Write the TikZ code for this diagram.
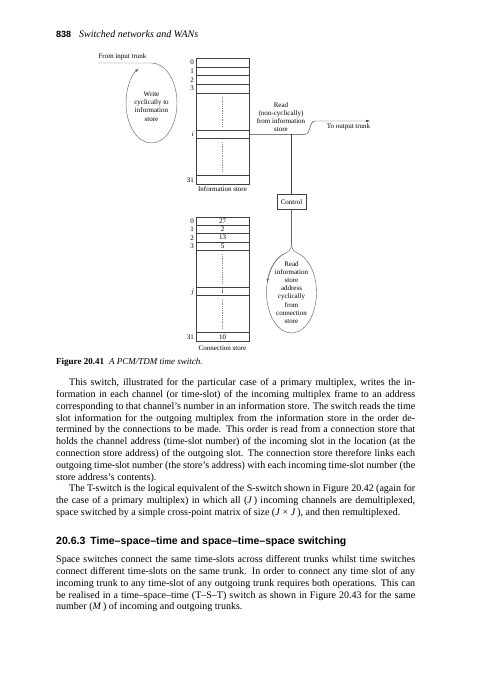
\documentclass[tikz,border=0pt]{standalone}
\usepackage{fontspec}
\setmainfont{Liberation Serif}
\setsansfont{Liberation Sans}
\usetikzlibrary{arrows.meta}
\newcommand{\figfont}{\fontsize{7}{8.2}\selectfont}
\newcommand{\bodyfont}{\fontsize{10}{11.8}\selectfont}
\newcommand{\fullln}[1]{\hbox to 359pt{\strut#1}}
\newcommand{\lastln}[1]{\hbox{\strut#1}}

\begin{document}
\begin{tikzpicture}[x=1pt, y=-1pt,
  >={Latex[length=4pt,width=2.6pt]},
  wire/.style={draw=black!75, line width=0.45pt},
  loopln/.style={draw=black!60, line width=0.45pt},
  store/.style={draw=black!75, line width=0.5pt, minimum width=53pt,
    anchor=north west, inner sep=0pt},
  lab/.style={font=\figfont, align=center, inner sep=0pt},
  addr/.style={font=\figfont, anchor=east, inner sep=0pt},
  cell/.style={font=\figfont, inner sep=0pt},
  gap/.style={draw=black!45, line width=0.4pt, dash pattern=on 0.5pt off 1.3pt},
  body/.style={anchor=north west, inner sep=0pt, font=\bodyfont}
]
\useasboundingbox (0,0) rectangle (481,680);
% running head
\node[anchor=base west, inner sep=0pt,
  font=\sffamily\bfseries\fontsize{9}{10}\selectfont] (pgno) at (56,37.5) {838};
\node[anchor=base west, inner sep=0pt,
  font=\itshape\fontsize{10}{11}\selectfont] (runhd) at (79,37.5)
  {Switched networks and WANs};
% the information store
\node[store, minimum height=125.8pt] (info) at (196,58.4) {};
\foreach \y in {67,75.6,84.2,92.8,130,138.6,175.6}
  \draw[wire] (196,\y) -- (249,\y);
\foreach \y/\t [count=\k] in {62.7/0,71.3/1,79.9/2,88.5/3,134.3/\textit{i},179.9/31}
  \node[addr] (iadr\k) at (194,\y) {\t};
\draw[gap] (222.5,97) -- (222.5,127);
\draw[gap] (222.5,142) -- (222.5,172);
\node[lab] (infolab) at (222.5,189.5) {Information store};
% the connection store
\node[store, minimum height=124.3pt] (conn) at (196,216.7) {};
\foreach \y in {225.1,233.5,241.9,250.3,287.3,295.7,332.5}
  \draw[wire] (196,\y) -- (249,\y);
\foreach \y/\t [count=\k] in {220.9/0,229.3/1,237.7/2,246.1/3,291.5/\textit{j},336.8/31}
  \node[addr] (cadr\k) at (194,\y) {\t};
\foreach \y/\t [count=\k] in {220.9/27,229.3/2,237.7/13,246.1/5,291.5/\textit{i},336.8/10}
  \node[cell] (cval\k) at (222.5,\y) {\t};
\draw[gap] (222.5,254) -- (222.5,284);
\draw[gap] (222.5,299) -- (222.5,329);
\node[lab] (connlab) at (222.5,348.5) {Connection store};
% writing side
\coordinate (intk) at (98,63);
\coordinate (wrtop) at (151.5,63);
\node[lab] (inlab) at (122.5,57) {From input trunk};
\draw[loopln,->] (intk) -- (wrtop)
  arc[start angle=-90, end angle=240, x radius=25.5, y radius=40];
\node[lab] (wrtxt) at (151.5,106.5) {Write\\cyclically to\\information\\store};
% reading side
\coordinate (rowi) at (249,134.3);
\coordinate (tap) at (291.5,134.3);
\coordinate (outk) at (370,121);
\draw[wire,->] (rowi) -- (305,134.3) .. controls (311,134.3) and (309,121) .. (315,121)
  -- (outk);
\node[lab] (rdlab) at (281,117) {Read\\(non-cyclically)\\from information\\store};
\node[lab] (outlab) at (348.5,127) {To output trunk};
\node[draw=black!75, line width=0.5pt, font=\figfont, minimum width=29pt,
  minimum height=14.5pt, inner sep=0pt] (ctl) at (291.5,201.7) {Control};
\draw[wire] (tap) -- (ctl.north);
% the control loop through the connection store
\coordinate (rdneck) at (291.5,244);
\coordinate (rdl) at (285.03,253.38);
\coordinate (rdr) at (297.97,253.38);
\draw[loopln] (ctl.south) -- (rdneck);
\draw[loopln] (rdneck) .. controls (291.5,249) and (289,251.7) .. (rdl);
\draw[loopln] (rdneck) .. controls (291.5,249) and (294,251.7) .. (rdr);
\draw[loopln] (rdl) arc[start angle=-105, end angle=-435, x radius=25, y radius=40.5];
\draw[loopln,->] (rdl) arc[start angle=-105, end angle=-166, x radius=25, y radius=40.5];
\node[lab] (rdtxt) at (291.5,292.5)
  {Read\\information\\store\\address\\cyclically\\from\\connection\\store};
% caption
\node[anchor=base west, inner sep=0pt, font=\fontsize{9}{10}\selectfont] (figcap)
  at (56,364) {\textbf{Figure 20.41}\hspace{5pt}\textit{A PCM/TDM time switch.}};
% body text
\node[body] (para) at (56,377.2) {\vbox{\bodyfont
  \fullln{\hskip13pt This switch, illustrated for the particular case of a primary multiplex, writes the in-}
  \fullln{formation in each channel (or time-slot) of the incoming multiplex frame to an address}
  \fullln{corresponding to that channel's number in an information store. The switch reads the time}
  \fullln{slot information for the outgoing multiplex from the information store in the order de-}
  \fullln{termined by the connections to be made. This order is read from a connection store that}
  \fullln{holds the channel address (time-slot number) of the incoming slot in the location (at the}
  \fullln{connection store address) of the outgoing slot. The connection store therefore links each}
  \fullln{outgoing time-slot number (the store's address) with each incoming time-slot number (the}
  \lastln{store address's contents).}
  \fullln{\hskip13pt The T-switch is the logical equivalent of the S-switch shown in Figure 20.42 (again for}
  \fullln{the case of a primary multiplex) in which all (\textit{J}\,) incoming channels are demultiplexed,}
  \lastln{space switched by a simple cross-point matrix of size (\textit{J} × \textit{J}\,), and then remultiplexed.}}};
\node[anchor=base west, inner sep=0pt,
  font=\sffamily\bfseries\fontsize{10.5}{12}\selectfont] (sechd) at (56,544)
  {20.6.3\hspace{5pt}Time--space--time and space--time--space switching};
\node[body] (para3) at (56,554.2) {\vbox{\bodyfont
  \fullln{Space switches connect the same time-slots across different trunks whilst time switches}
  \fullln{connect different time-slots on the same trunk. In order to connect any time slot of any}
  \fullln{incoming trunk to any time-slot of any outgoing trunk requires both operations. This can}
  \fullln{be realised in a time--space--time (T--S--T) switch as shown in Figure 20.43 for the same}
  \lastln{number (\textit{M}\,) of incoming and outgoing trunks.}}};
\end{tikzpicture}
\end{document}
